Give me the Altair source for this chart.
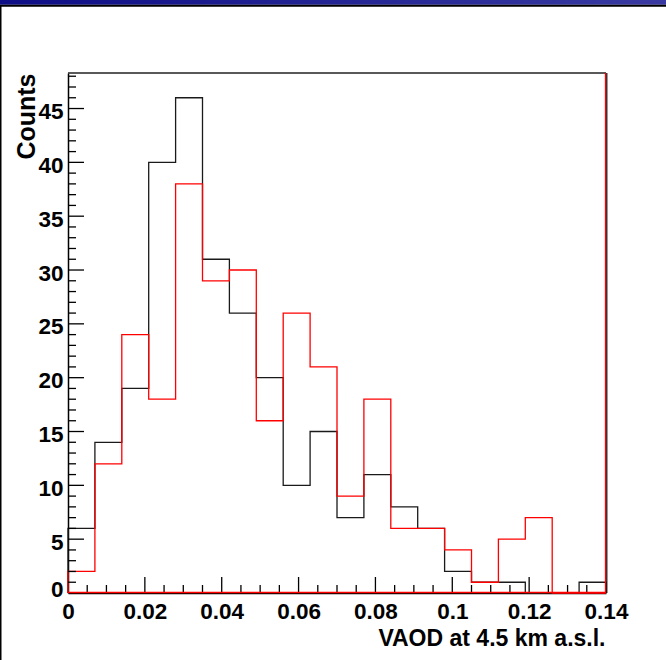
import altair as alt
import pandas as pd

# ---- data (20 bins of width 0.007 from 0 to 0.14) ----
bin_width = 0.007
black_counts = [6, 14, 19, 40, 46, 31, 26, 20, 10, 15, 7, 11, 8, 6, 2, 1, 1, 0, 0, 1]
red_counts = [2, 12, 24, 18, 38, 29, 30, 16, 26, 21, 9, 18, 6, 6, 4, 1, 5, 7, 0, 0]

x_tick_values = [0, 0.02, 0.04, 0.06, 0.08, 0.1, 0.12, 0.14]
y_tick_values = [0, 5, 10, 15, 20, 25, 30, 35, 40, 45]
x_minor_ticks = [round(i * 0.005, 3) for i in range(1, 28)]
y_minor_ticks = [i for i in range(1, 49)]

x_title = "VAOD at 4.5 km a.s.l."
y_title = "Counts"

W, H = 538, 520
FONT = "Liberation Sans"


def step_frame(counts):
    n = len(counts)
    edges = [round(i * bin_width, 4) for i in range(n + 1)]
    xs = [edges[0]] + edges[:n] + [edges[n], edges[n]]
    ys = [0] + counts + [counts[-1], 0]
    return pd.DataFrame({"x": xs, "y": ys, "o": list(range(len(xs)))})


xscale = alt.Scale(domain=[0, 0.14], nice=False, zero=False)
yscale = alt.Scale(domain=[0, 48.3], nice=False, zero=False)

x_axis = alt.Axis(
    values=x_tick_values, ticks=False, grid=False,
    labelExpr="format(datum.value, '~g')",
    labelFont=FONT, labelFontWeight="bold", labelFontSize=22.5, labelColor="black",
    labelPadding=7, labelFlush=False, labelOverlap=False,
    domainColor="black", domainWidth=1.5,
    title=x_title, titleFont=FONT, titleFontWeight="bold", titleFontSize=23,
    titleColor="black", titleAlign="right", titleBaseline="alphabetic",
    titleX=W - 1, titleY=52,
)
y_axis = alt.Axis(
    values=y_tick_values, ticks=False, grid=False,
    labelFont=FONT, labelFontWeight="bold", labelFontSize=22.5, labelColor="black",
    labelPadding=5, labelFlush=False, labelOverlap=False, labelBaseline="middle",
    labelOffset={"condition": {"test": "datum.value == 0", "value": -4}, "value": 3},
    domainColor="black", domainWidth=1.5,
    title=y_title, titleFont=FONT, titleFontWeight="bold", titleFontSize=25,
    titleColor="black", titleAngle=-90, titleAlign="right", titleBaseline="alphabetic",
    titleX=-33.5, titleY=0,
)

black_df = step_frame(black_counts)
red_df = step_frame(red_counts)

black_line = alt.Chart(black_df).mark_line(
    interpolate="step-after", color="#1a1a1a", strokeWidth=1.3
).encode(
    x=alt.X("x:Q", scale=xscale, axis=x_axis),
    y=alt.Y("y:Q", scale=yscale, axis=y_axis),
    order="o:Q",
)
red_line = alt.Chart(red_df).mark_line(
    interpolate="step-after", color="#ff0000", strokeWidth=1.3
).encode(
    x=alt.X("x:Q", scale=xscale),
    y=alt.Y("y:Q", scale=yscale),
    order="o:Q",
)

# inward-pointing ROOT-style ticks
x_major = alt.Chart(pd.DataFrame({"x": x_tick_values[1:-1]})).mark_rule(
    color="black", strokeWidth=1.3
).encode(x=alt.X("x:Q", scale=xscale), y=alt.value(H), y2=alt.value(H - 16))
x_minor = alt.Chart(pd.DataFrame({"x": [v for v in x_minor_ticks if round(v / 0.02, 6) % 1 != 0]})).mark_rule(
    color="black", strokeWidth=1.3
).encode(x=alt.X("x:Q", scale=xscale), y=alt.value(H), y2=alt.value(H - 8))
y_major = alt.Chart(pd.DataFrame({"y": y_tick_values[1:]})).mark_rule(
    color="black", strokeWidth=1.3
).encode(y=alt.Y("y:Q", scale=yscale), x=alt.value(0), x2=alt.value(16))
y_minor = alt.Chart(pd.DataFrame({"y": [v for v in y_minor_ticks if v % 5 != 0]})).mark_rule(
    color="black", strokeWidth=1.3
).encode(y=alt.Y("y:Q", scale=yscale), x=alt.value(0), x2=alt.value(8))

# frame
frame_top = alt.Chart(pd.DataFrame({"a": [0]})).mark_rule(color="#222222", strokeWidth=1.3).encode(
    x=alt.value(0), x2=alt.value(W), y=alt.value(0)
)
frame_right_dark = alt.Chart(pd.DataFrame({"a": [0]})).mark_rule(color="black", strokeWidth=1.2).encode(
    x=alt.value(W + 0.8), y=alt.value(0), y2=alt.value(H)
)
frame_right = alt.Chart(pd.DataFrame({"a": [0]})).mark_rule(color="#ff0000", strokeWidth=1.3).encode(
    x=alt.value(W - 0.5), y=alt.value(0), y2=alt.value(H)
)
frame_bottom = alt.Chart(pd.DataFrame({"a": [0]})).mark_rule(color="#ff0000", strokeWidth=1.3).encode(
    x=alt.value(0), x2=alt.value(W), y=alt.value(H - 0.5)
)

# window decoration (title bar strip and left border)
bar = alt.Chart(pd.DataFrame({"a": [0]})).mark_rect(
    color=alt.Gradient(
        gradient="linear",
        stops=[alt.GradientStop(color="#0e0e86", offset=0),
               alt.GradientStop(color="#3a3aa2", offset=1)],
        x1=0, x2=1, y1=0, y2=0,
    )
).encode(x=alt.value(-68), x2=alt.value(666 - 68), y=alt.value(-73), y2=alt.value(-68.3))
bar_line = alt.Chart(pd.DataFrame({"a": [0]})).mark_rect(color="black").encode(
    x=alt.value(-68), x2=alt.value(666 - 68), y=alt.value(-68.3), y2=alt.value(-66.3)
)
left_border = alt.Chart(pd.DataFrame({"a": [0]})).mark_rect(color="black").encode(
    x=alt.value(-68), x2=alt.value(-66.5), y=alt.value(-68), y2=alt.value(660 - 73)
)

chart = alt.layer(
    black_line, red_line, x_minor, x_major, y_minor, y_major,
    frame_top, frame_right_dark, frame_right, frame_bottom, bar, bar_line, left_border,
).properties(
    width=W, height=H,
    autosize=alt.AutoSizeParams(type="none"),
    padding={"left": 68, "top": 73, "right": 60, "bottom": 67},
    background="white",
).configure_view(strokeWidth=0)

chart.save("out.html", embed_options={"renderer": "svg", "actions": False})
